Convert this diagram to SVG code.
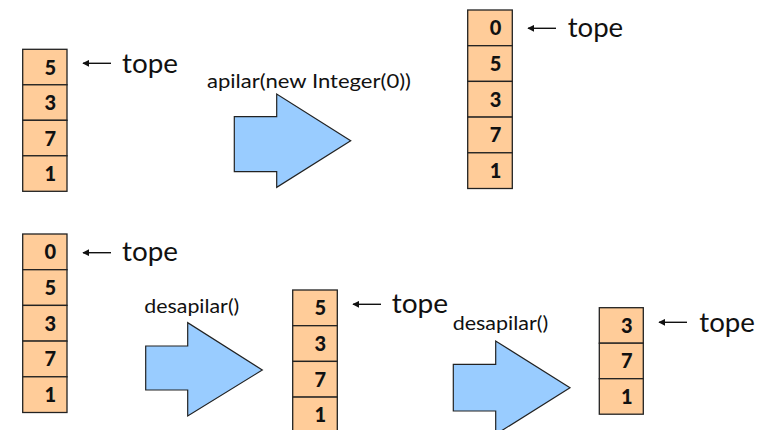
<svg xmlns="http://www.w3.org/2000/svg" width="767" height="430" viewBox="0 0 767 430">
<style>
.cell{fill:#FFCC99;stroke:#222;stroke-width:1.3}
.num{font-family:Lato,"Liberation Sans",sans-serif;font-weight:900;font-size:20px;fill:#111;text-anchor:middle}
.tope{font-family:Lato,"Open Sans",sans-serif;font-size:27px;fill:#111}
.lbl{font-family:Lato,"Open Sans",sans-serif;font-size:19.5px;fill:#111}
.ptr{stroke:#111;stroke-width:1.4;fill:none;marker-start:url(#ah)}
.big{fill:#99CCFF;stroke:#222;stroke-width:1.2;stroke-linejoin:miter}
</style>
<defs>
<marker id="ah" viewBox="0 0 10 10" refX="1" refY="5" markerWidth="7" markerHeight="7" markerUnits="userSpaceOnUse" orient="auto">
<path d="M10,0 L0,5 L10,10 z" fill="#111"/>
</marker>
</defs>

<g id="stack1">
<rect class="cell" x="22.7" y="49.3" width="44.3" height="35.5"/>
<rect class="cell" x="22.7" y="84.8" width="44.3" height="35.5"/>
<rect class="cell" x="22.7" y="120.3" width="44.3" height="35.5"/>
<rect class="cell" x="22.7" y="155.8" width="44.3" height="35.5"/>
<text class="num" x="50.3" y="74.5">5</text>
<text class="num" x="50.3" y="110">3</text>
<text class="num" x="50.3" y="145.5">7</text>
<text class="num" x="50.3" y="181">1</text>
</g>

<g id="stack2">
<rect class="cell" x="467.7" y="10" width="44.6" height="35.7"/>
<rect class="cell" x="467.7" y="45.7" width="44.6" height="35.7"/>
<rect class="cell" x="467.7" y="81.4" width="44.6" height="35.7"/>
<rect class="cell" x="467.7" y="117.1" width="44.6" height="35.7"/>
<rect class="cell" x="467.7" y="152.8" width="44.6" height="35.7"/>
<text class="num" x="495.5" y="35.2">0</text>
<text class="num" x="495.5" y="70.9">5</text>
<text class="num" x="495.5" y="106.6">3</text>
<text class="num" x="495.5" y="142.3">7</text>
<text class="num" x="495.5" y="178">1</text>
</g>

<g id="stack3">
<rect class="cell" x="22.7" y="234" width="44.3" height="35.7"/>
<rect class="cell" x="22.7" y="269.7" width="44.3" height="35.7"/>
<rect class="cell" x="22.7" y="305.4" width="44.3" height="35.7"/>
<rect class="cell" x="22.7" y="341.1" width="44.3" height="35.7"/>
<rect class="cell" x="22.7" y="376.8" width="44.3" height="35.7"/>
<text class="num" x="50.3" y="259.2">0</text>
<text class="num" x="50.3" y="294.9">5</text>
<text class="num" x="50.3" y="330.6">3</text>
<text class="num" x="50.3" y="366.3">7</text>
<text class="num" x="50.3" y="402">1</text>
</g>

<g id="stack4">
<rect class="cell" x="292.7" y="290" width="44.6" height="35.7"/>
<rect class="cell" x="292.7" y="325.7" width="44.6" height="35.7"/>
<rect class="cell" x="292.7" y="361.4" width="44.6" height="35.7"/>
<rect class="cell" x="292.7" y="397.1" width="44.6" height="35.7"/>
<text class="num" x="320.3" y="315.2">5</text>
<text class="num" x="320.3" y="350.9">3</text>
<text class="num" x="320.3" y="386.6">7</text>
<text class="num" x="320.3" y="422.3">1</text>
</g>

<g id="stack5">
<rect class="cell" x="599.3" y="307.7" width="44" height="35.5"/>
<rect class="cell" x="599.3" y="343.2" width="44" height="35.5"/>
<rect class="cell" x="599.3" y="378.7" width="44" height="35.5"/>
<text class="num" x="626.8" y="332.9">3</text>
<text class="num" x="626.8" y="368.4">7</text>
<text class="num" x="626.8" y="403.9">1</text>
</g>

<g id="tope-labels">
<text class="tope" x="122" y="73" textLength="56" lengthAdjust="spacingAndGlyphs">tope</text>
<text class="tope" x="567.7" y="37" textLength="55.5" lengthAdjust="spacingAndGlyphs">tope</text>
<text class="tope" x="122" y="261" textLength="56" lengthAdjust="spacingAndGlyphs">tope</text>
<text class="tope" x="391.7" y="313" textLength="56.5" lengthAdjust="spacingAndGlyphs">tope</text>
<text class="tope" x="699.3" y="331.5" textLength="55.7" lengthAdjust="spacingAndGlyphs">tope</text>
</g>

<g id="connectors">
<line class="ptr" x1="83" y1="63.3" x2="111" y2="63.3"/>
<line class="ptr" x1="528" y1="28.3" x2="556" y2="28.3"/>
<line class="ptr" x1="83" y1="252.7" x2="111" y2="252.7"/>
<line class="ptr" x1="353" y1="304.3" x2="381" y2="304.3"/>
<line class="ptr" x1="659" y1="322.3" x2="687" y2="322.3"/>

<path class="big" d="M234.3,116.7 H276.7 V94 L350.7,140.7 L276.7,187.3 V171.7 H234.3 Z"/>
<path class="big" d="M145.7,346 H187.7 V322.7 L262.3,370 L187.7,416 V390 H145.7 Z"/>
<path class="big" d="M453.3,364.3 H495.7 V341 L570,387.7 L495.7,434.4 V411 H453.3 Z"/>

<text class="lbl" x="207" y="88" textLength="204" lengthAdjust="spacingAndGlyphs">apilar(new Integer(0))</text>
<text class="lbl" x="144.3" y="313" textLength="95" lengthAdjust="spacingAndGlyphs">desapilar()</text>
<text class="lbl" x="452.7" y="330" textLength="95.6" lengthAdjust="spacingAndGlyphs">desapilar()</text>
</g>
</svg>
